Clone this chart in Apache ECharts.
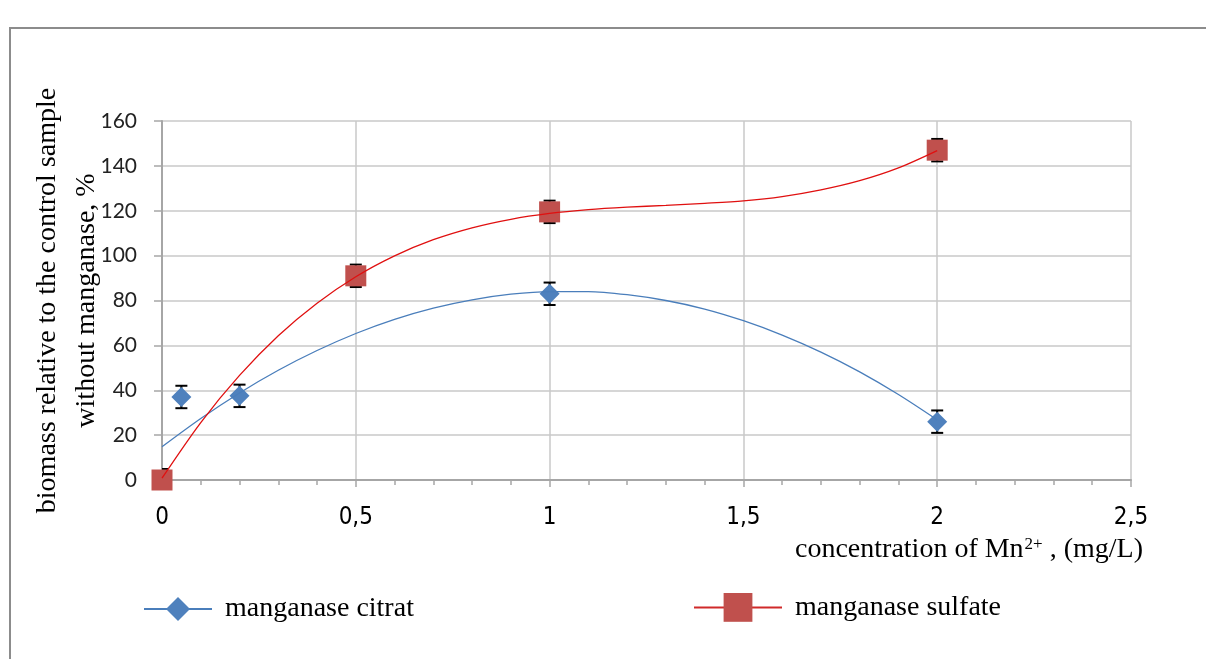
<!DOCTYPE html>
<html>
<head>
<meta charset="utf-8">
<script src="https://cdn.jsdelivr.net/npm/echarts@6/dist/echarts.min.js"></script>
<style>
  html, body { margin: 0; padding: 0; background: #fff; }
  #main { width: 1206px; height: 659px; }
</style>
</head>
<body>
<div id="main"></div>
<script>
// measured points (x = Mn2+ mg/L, y = biomass %)
const citratX = [0.05, 0.2, 1, 2];
const citratY = [37, 37.5, 83, 26];
const citratErr = [5, 5, 5, 5];

const sulfateX = [0, 0.5, 1, 2];
const sulfateY = [0, 91, 119.5, 147];
const sulfateErr = [4.9, 5, 5, 5];

// trend curves
const trendX = [0, 0.1, 0.2, 0.3, 0.4, 0.5, 0.6, 0.7, 0.8, 0.9, 1, 1.1, 1.2, 1.3, 1.4, 1.5, 1.6, 1.7, 1.8, 1.9, 2];
const citratTrend = [14.8, 27.4, 38.8, 48.9, 57.7, 65.3, 71.6, 76.6, 80.3, 82.8, 84, 84, 82.6, 80, 76.2, 71, 64.6, 57, 48.2, 38.1, 26.8];
const sulfateTrend = [0.8, 25.6, 46.6, 64.3, 78.8, 90.6, 99.9, 107.1, 112.4, 116.2, 118.8, 120.5, 121.6, 122.4, 123.3, 124.4, 126.3, 129.3, 133.4, 139.1, 146.8];

const xTicks = [0, 0.5, 1, 1.5, 2, 2.5];

const serif = "'Liberation Serif', 'DejaVu Serif', serif";
const narrow = "'Liberation Sans Narrow', 'DejaVu Sans Condensed', sans-serif";

function pairs(xs, ys) {
  return xs.map((x, i) => [x, ys[i]]);
}
function errData(xs, ys, es) {
  return xs.map((x, i) => [x, ys[i] - es[i], ys[i] + es[i]]);
}

function errorBar(params, api) {
  const top = api.coord([api.value(0), api.value(2)]);
  const bot = api.coord([api.value(0), api.value(1)]);
  const half = 6;
  const style = { stroke: '#000', lineWidth: 2 };
  return {
    type: 'group',
    children: [
      { type: 'line', shape: { x1: top[0], y1: top[1], x2: bot[0], y2: bot[1] }, style },
      { type: 'line', shape: { x1: top[0] - half, y1: top[1], x2: top[0] + half, y2: top[1] }, style },
      { type: 'line', shape: { x1: bot[0] - half, y1: bot[1], x2: bot[0] + half, y2: bot[1] }, style },
    ],
  };
}

const option = {
  animation: false,
  backgroundColor: '#fff',
  graphic: [{
    type: 'rect',
    shape: { x: 10, y: 28, width: 1220, height: 660 },
    style: { fill: 'none', stroke: '#8c8c8c', lineWidth: 2 },
    silent: true,
  }],
  grid: {
    left: 162,
    right: 75,
    top: 121,
    bottom: 179,
  },
  legend: [{
    data: [{
      name: 'manganase citrat',
      lineStyle: { color: '#4a7ebb', width: 2, opacity: 1 },
    }],
    left: 138,
    top: 590,
    itemWidth: 68,
    itemHeight: 30,
    textStyle: { fontFamily: serif, fontSize: 28, color: '#000', padding: [0, 0, 0, 8] },
  }, {
    data: [{
      name: 'manganase sulfate',
      lineStyle: { color: '#d02a2a', width: 2, opacity: 1 },
    }],
    left: 688,
    top: 588,
    itemWidth: 88,
    itemHeight: 36,
    textStyle: { fontFamily: serif, fontSize: 28, color: '#000', padding: [0, 0, 0, 8] },
  }],
  xAxis: {
    type: 'value',
    min: 0,
    max: 2.5,
    interval: 0.5,
    name: '{t|concentration of Mn}{s|2+}{t| , (mg/L)}',
    nameLocation: 'end',
    nameGap: 12,
    nameMoveOverlap: false,
    nameTextStyle: {
      align: 'right',
      verticalAlign: 'top',
      padding: [56, 0, 0, 0],
      rich: {
        t: { fontFamily: serif, fontSize: 28, color: '#000' },
        s: { fontFamily: serif, fontSize: 17, color: '#000', verticalAlign: 'top', padding: [0, 0, 8, 1] },
      },
    },
    axisLine: { lineStyle: { color: '#a6a6a6', width: 2 } },
    axisTick: { show: true, length: 7, lineStyle: { color: '#a6a6a6', width: 1.5 } },
    minorTick: { show: true, splitNumber: 5, length: 5, lineStyle: { color: '#a6a6a6', width: 1.5 } },
    splitLine: { show: true, lineStyle: { color: '#c8c8c8', width: 1.5 } },
    axisLabel: {
      margin: 26,
      fontFamily: narrow,
      fontSize: 24,
      color: '#000',
      formatter: (v) => (xTicks.indexOf(v) >= 0 ? String(v).replace('.', ',') : ''),
    },
  },
  yAxis: {
    type: 'value',
    min: 0,
    max: 160,
    interval: 20,
    name: 'biomass relative to the control sample\nwithout manganase, %',
    nameLocation: 'middle',
    nameRotate: 90,
    nameGap: 56,
    nameMoveOverlap: false,
    nameTextStyle: { fontFamily: serif, fontSize: 28, color: '#000', lineHeight: 39 },
    axisLine: { show: true, lineStyle: { color: '#a6a6a6', width: 2 } },
    axisTick: { show: true, length: 8, lineStyle: { color: '#a6a6a6', width: 1.5 } },
    splitLine: { lineStyle: { color: '#c8c8c8', width: 1.5 } },
    axisLabel: { margin: 25, fontFamily: 'Lato, sans-serif', fontSize: 21, color: '#222' },
  },
  series: [
    {
      name: 'citrat err',
      type: 'custom',
      renderItem: errorBar,
      data: errData(citratX, citratY, citratErr),
      clip: true,
      z: 2,
    },
    {
      name: 'sulfate err',
      type: 'custom',
      renderItem: errorBar,
      data: errData(sulfateX, sulfateY, sulfateErr),
      clip: true,
      z: 2,
    },
    {
      name: 'manganase citrat',
      type: 'line',
      data: pairs(citratX, citratY),
      symbol: 'diamond',
      symbolSize: 20,
      itemStyle: { color: '#4f81bd' },
      lineStyle: { opacity: 0 },
      clip: false,
      z: 3,
    },
    {
      name: 'manganase sulfate',
      type: 'line',
      data: pairs(sulfateX, sulfateY),
      symbol: 'rect',
      symbolSize: 21,
      itemStyle: { color: '#c0504d' },
      lineStyle: { opacity: 0 },
      clip: false,
      z: 3,
    },
    {
      name: 'citrat trend',
      type: 'line',
      data: pairs(trendX, citratTrend),
      smooth: 0.3,
      showSymbol: false,
      lineStyle: { color: '#4a7ebb', width: 1.3 },
      z: 4,
    },
    {
      name: 'sulfate trend',
      type: 'line',
      data: pairs(trendX, sulfateTrend),
      smooth: 0.3,
      showSymbol: false,
      lineStyle: { color: '#e01010', width: 1.3 },
      z: 4,
    },
  ],
};

const myechart = echarts.init(document.getElementById('main'));
myechart.setOption(option);
</script>
</body>
</html>
